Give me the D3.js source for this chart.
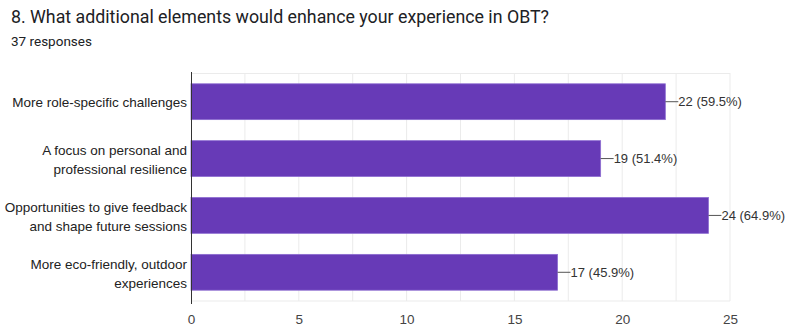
<!DOCTYPE html>
<html>
<head>
<meta charset="utf-8">
<script src="https://cdn.jsdelivr.net/npm/d3@7"></script>
<style>
  body { margin: 0; background: #fff; font-family: Roboto, Arial, sans-serif; }
  .lbl { font-family: "Liberation Sans", Arial, sans-serif; }
</style>
</head>
<body>
<svg id="chart" width="790" height="327"></svg>
<script>
// chart data
var categories = [
  ["More role-specific challenges"],
  ["A focus on personal and", "professional resilience"],
  ["Opportunities to give feedback", "and shape future sessions"],
  ["More eco-friendly, outdoor", "experiences"]
];
var counts = [22, 19, 24, 17];
var percents = ["59.5%", "51.4%", "64.9%", "45.9%"];
var tickValues = [0, 5, 10, 15, 20, 25];

var margin = {top: 73, right: 60, bottom: 26, left: 191};
var width = 730 - margin.left;
var height = 301 - margin.top;

var svg = d3.select("svg#chart");

svg.append("text")
  .attr("x", 11).attr("y", 23)
  .attr("font-size", 17.8).attr("fill", "#202124")
  .text("8. What additional elements would enhance your experience in OBT?");
svg.append("text")
  .attr("x", 11).attr("y", 46)
  .attr("font-size", 13.5).attr("fill", "#202124")
  .text("37 responses");

var g = svg.append("g").attr("transform", "translate(" + margin.left + "," + margin.top + ")");

var x = d3.scaleLinear().domain([0, 25]).range([0, width]);
var y = d3.scaleBand().domain(d3.range(counts.length)).range([0, height]).paddingInner(0.37).paddingOuter(0.19);

// grid lines every 2.5
g.append("g")
  .selectAll("line")
  .data(d3.range(2.5, 25.01, 2.5))
  .enter()
  .append("line")
  .attr("x1", function (d) { return x(d); })
  .attr("x2", function (d) { return x(d); })
  .attr("y1", 0).attr("y2", height)
  .attr("stroke", "#ebebeb").attr("stroke-width", 1);

g.append("line")
  .attr("x1", 0).attr("x2", width)
  .attr("y1", 0.5).attr("y2", 0.5)
  .attr("stroke", "#ebebeb");
g.append("line")
  .attr("x1", 0).attr("x2", width)
  .attr("y1", height).attr("y2", height)
  .attr("stroke", "#ebebeb");

// bars
g.append("g")
  .selectAll("rect")
  .data(counts)
  .enter()
  .append("rect")
  .attr("x", 0)
  .attr("y", function (d, i) { return y(i); })
  .attr("width", function (d) { return x(d); })
  .attr("height", y.bandwidth())
  .attr("fill", "#673ab7")
  .attr("stroke", "#8c6cd0").attr("stroke-width", 0.8);

// value labels with leader lines
var labels = g.append("g")
  .selectAll("g")
  .data(counts)
  .enter()
  .append("g")
  .attr("transform", function (d, i) { return "translate(" + x(d) + "," + (y(i) + y.bandwidth() / 2) + ")"; });
labels.append("line")
  .attr("x1", 0).attr("x2", 13)
  .attr("stroke", "#555").attr("stroke-width", 1);
labels.append("text")
  .attr("class", "lbl")
  .attr("x", 13).attr("dy", "0.36em")
  .attr("font-size", 13).attr("fill", "#333")
  .text(function (d, i) { return d + " (" + percents[i] + ")"; });

// category labels
var cats = g.append("g")
  .selectAll("text")
  .data(categories)
  .enter()
  .append("text")
  .attr("class", "lbl")
  .attr("text-anchor", "end")
  .attr("font-size", 13.5).attr("fill", "#222")
  .attr("x", -4)
  .attr("y", function (d, i) { return y(i) + y.bandwidth() / 2; });
cats.selectAll("tspan")
  .data(function (d) { return d.map(function (t, j) { return {t: t, j: j, n: d.length}; }); })
  .enter()
  .append("tspan")
  .attr("x", -4)
  .attr("dy", function (d) { return d.j === 0 ? (0.36 - (d.n - 1) * 0.6) + "em" : "1.4em"; })
  .text(function (d) { return d.t; });

// axis
g.append("line")
  .attr("x1", 0.5).attr("x2", 0.5)
  .attr("y1", -1).attr("y2", height + 3)
  .attr("stroke", "#333").attr("stroke-width", 1);

var xAxis = g.append("g")
  .attr("transform", "translate(0," + height + ")")
  .call(d3.axisBottom(x).tickValues(tickValues).tickSize(0).tickPadding(13));
xAxis.select(".domain").remove();
xAxis.selectAll("text")
  .attr("font-size", 13.5).attr("fill", "#444")
  .attr("font-family", "\"Liberation Sans\", Arial, sans-serif");
</script>
</body>
</html>
